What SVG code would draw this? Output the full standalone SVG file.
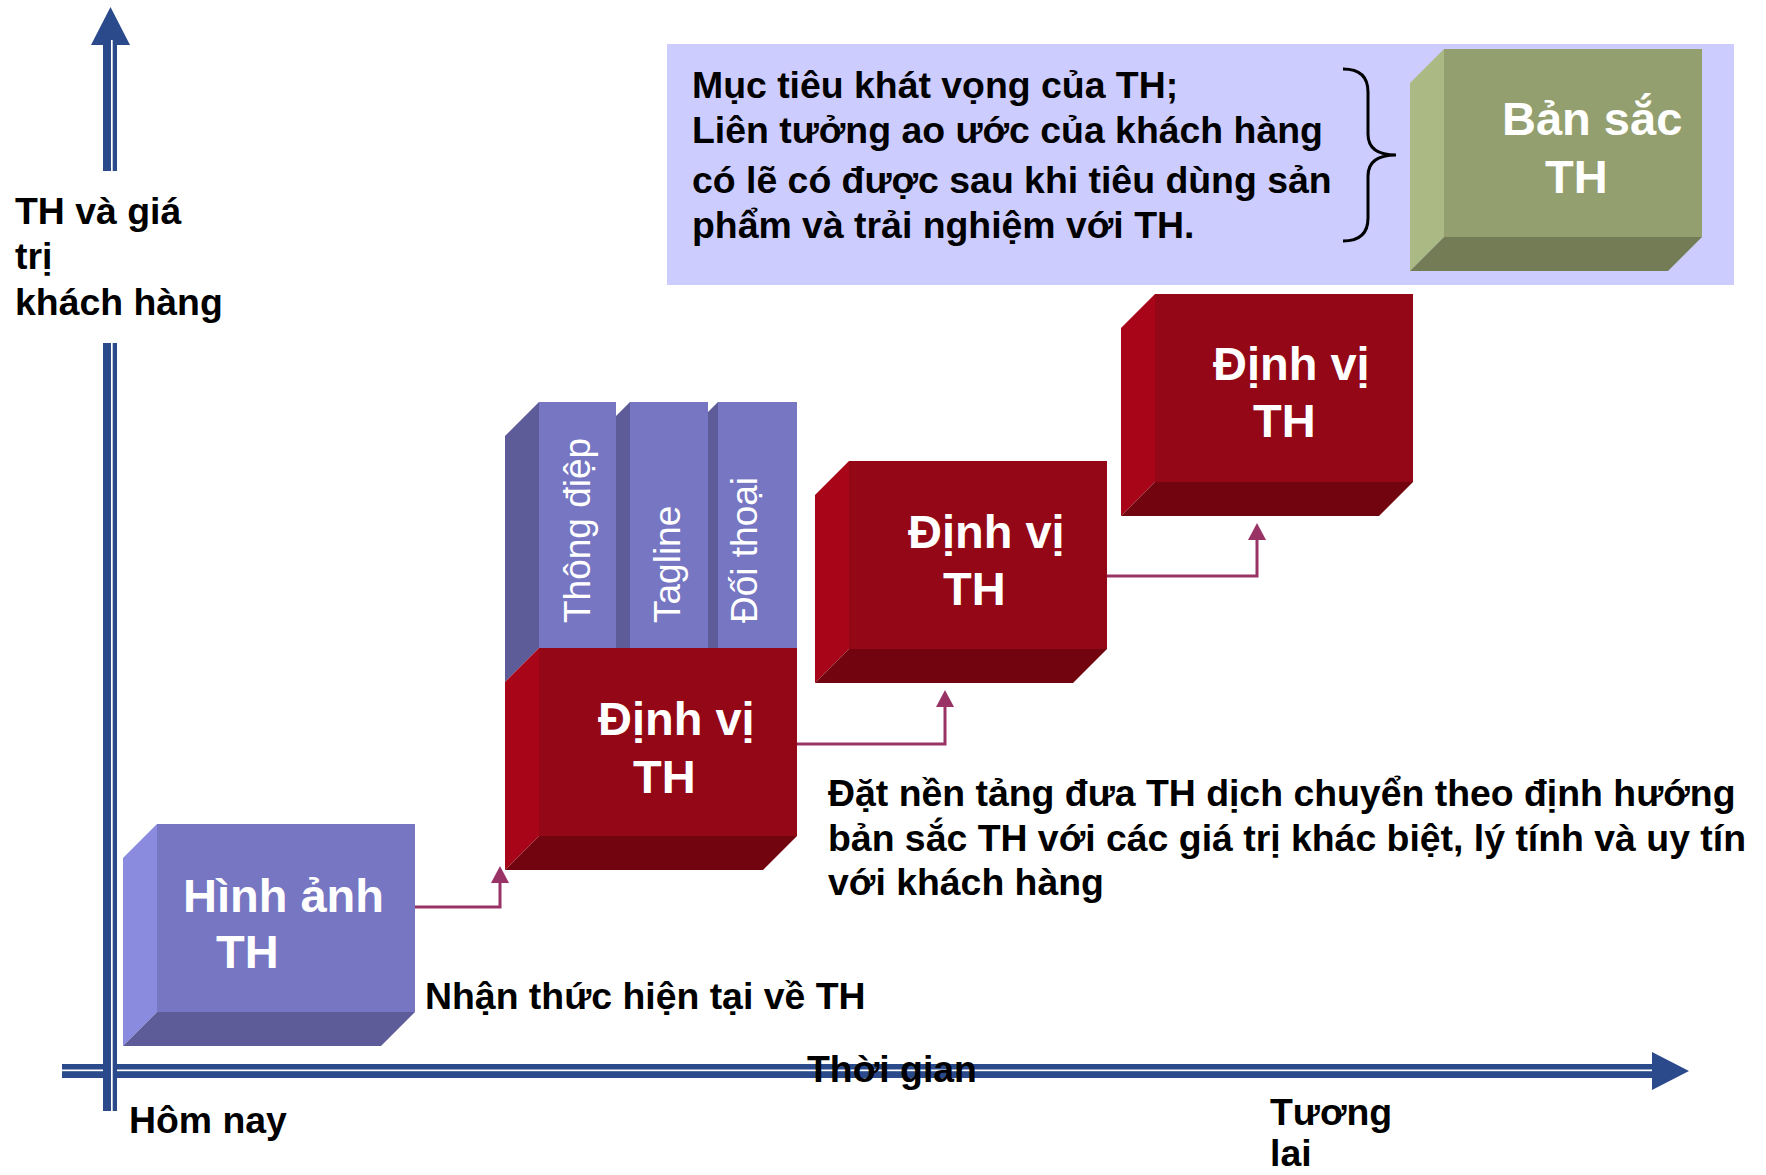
<svg xmlns="http://www.w3.org/2000/svg" width="1766" height="1175" viewBox="0 0 1766 1175">
<defs>
<style>
.lbl{font-family:"Liberation Sans",Arial,sans-serif;font-weight:bold;font-size:37.4px;fill:#000}
.nt{font-family:"Liberation Sans",Arial,sans-serif;font-weight:bold;font-size:47px;fill:#fff}
.vt{font-family:"Liberation Sans",Arial,sans-serif;font-size:37px;fill:#fff}
.axis{fill:#2B4A8B}
.axw{fill:#fff}
.conn{fill:none;stroke:#993366;stroke-width:3}
.bf{fill:#7676C2}.bl{fill:#8A8ADF}.bd{fill:#5D5B98}
.rf{fill:#930716}.rl{fill:#A80519}.rd{fill:#72040F}
.gf{fill:#949F6F}.gl{fill:#ABB984}.gd{fill:#737C55}
</style>
<marker id="arr" markerUnits="userSpaceOnUse" markerWidth="18" markerHeight="18" refX="0" refY="9" orient="auto" viewBox="0 0 18 18">
<path d="M0,0 L17,9 L0,18 z" fill="#993366"/>
</marker>
</defs>
<rect width="1766" height="1175" fill="#fff"/>

<g id="axes">
<rect class="axis" x="62" y="1064" width="1590" height="14"/>
<rect class="axw" x="62" y="1069.5" width="1590" height="1.7"/>
<polygon class="axis" points="1652,1052 1689,1071 1652,1090"/>
<polygon class="axis" points="110.5,7 130,45 91,45"/>
<rect class="axis" x="103" y="45" width="14" height="126"/>
<rect class="axw" x="111" y="40" width="1.7" height="131"/>
<rect class="axis" x="103" y="343" width="14" height="768"/>
<rect class="axw" x="111" y="343" width="1.7" height="768"/>
</g>

<g id="axis-labels">
<text class="lbl" x="15" y="224">TH và giá</text>
<text class="lbl" x="15" y="269">trị</text>
<text class="lbl" x="15" y="315">khách hàng</text>
<text class="lbl" x="129" y="1133">Hôm nay</text>
<text class="lbl" x="807" y="1082">Thời gian</text>
<text class="lbl" x="1270" y="1125">Tương</text>
<text class="lbl" x="1270" y="1166">lai</text>
</g>

<g id="node-hinh-anh">
<polygon class="bl" points="123,858 157,824 157,1012 123,1046"/>
<polygon class="bd" points="157,1012 415,1012 381,1046 123,1046"/>
<rect class="bf" x="157" y="824" width="258" height="188"/>
<text class="nt" x="183" y="912">Hình ảnh</text>
<text class="nt" x="216" y="968">TH</text>
</g>

<g id="node-columns">
<polygon class="bd" points="684,436 718,402 718,648 684,682"/>
<rect class="bf" x="718" y="402" width="79" height="246"/>
<polygon class="bd" points="596,436 630,402 630,648 596,682"/>
<rect class="bf" x="630" y="402" width="78" height="246"/>
<polygon class="bd" points="505,436 539,402 539,648 505,682"/>
<rect class="bf" x="539" y="402" width="77" height="246"/>
<text class="vt" transform="translate(590,623) rotate(-90)">Thông điệp</text>
<text class="vt" transform="translate(680,623) rotate(-90)">Tagline</text>
<text class="vt" transform="translate(757,623) rotate(-90)">Đối thoại</text>
</g>

<g id="node-dinh-vi-1">
<polygon class="rl" points="505,682 539,648 539,836 505,870"/>
<polygon class="rd" points="539,836 797,836 763,870 505,870"/>
<rect class="rf" x="539" y="648" width="258" height="188"/>
<text class="nt" x="598" y="735">Định vị</text>
<text class="nt" x="633" y="793">TH</text>
</g>

<g id="node-dinh-vi-2">
<polygon class="rl" points="815,495 849,461 849,649 815,683"/>
<polygon class="rd" points="849,649 1107,649 1073,683 815,683"/>
<rect class="rf" x="849" y="461" width="258" height="188"/>
<text class="nt" x="908" y="548">Định vị</text>
<text class="nt" x="943" y="605">TH</text>
</g>

<g id="node-dinh-vi-3">
<polygon class="rl" points="1121,328 1155,294 1155,482 1121,516"/>
<polygon class="rd" points="1155,482 1413,482 1379,516 1121,516"/>
<rect class="rf" x="1155" y="294" width="258" height="188"/>
<text class="nt" x="1213" y="380">Định vị</text>
<text class="nt" x="1253" y="437">TH</text>
</g>

<g id="node-ban-sac-panel">
<rect x="667" y="44" width="1067" height="241" fill="#CCCCFF"/>
<text class="lbl" x="692" y="98">Mục tiêu khát vọng của TH;</text>
<text class="lbl" x="692" y="143">Liên tưởng ao ước của khách hàng</text>
<text class="lbl" x="692" y="193">có lẽ có được sau khi tiêu dùng sản</text>
<text class="lbl" x="692" y="238">phẩm và trải nghiệm với TH.</text>
<path d="M1343,69 Q1368,69 1368,92 L1368,134 Q1368,155 1396,155 Q1368,155 1368,176 L1368,218 Q1368,241 1343,241" fill="none" stroke="#000" stroke-width="3"/>
</g>

<g id="node-ban-sac">
<polygon class="gl" points="1410,83 1444,49 1444,237 1410,271"/>
<polygon class="gd" points="1444,237 1702,237 1668,271 1410,271"/>
<rect class="gf" x="1444" y="49" width="258" height="188"/>
<text class="nt" x="1502" y="135">Bản sắc</text>
<text class="nt" x="1545" y="193">TH</text>
</g>

<g id="connectors">
<polyline class="conn" points="415,907 500,907 500,883" marker-end="url(#arr)"/>
<polyline class="conn" points="797,744 945,744 945,707" marker-end="url(#arr)"/>
<polyline class="conn" points="1107,576 1257,576 1257,540" marker-end="url(#arr)"/>
</g>

<g id="notes">
<text class="lbl" x="425" y="1009">Nhận thức hiện tại về TH</text>
<text class="lbl" x="828" y="806">Đặt nền tảng đưa TH dịch chuyển theo định hướng</text>
<text class="lbl" x="828" y="851">bản sắc TH với các giá trị khác biệt, lý tính và uy tín</text>
<text class="lbl" x="828" y="895">với khách hàng</text>
</g>
</svg>
